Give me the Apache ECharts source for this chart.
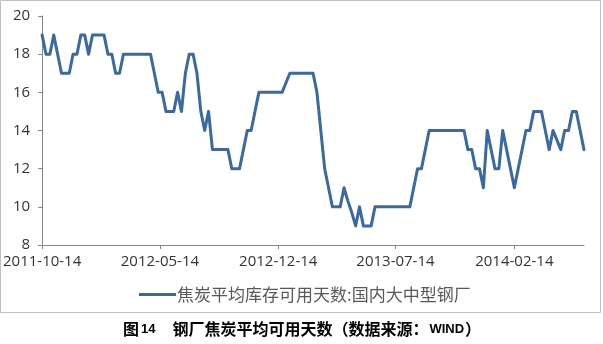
<!DOCTYPE html>
<html>
<head>
<meta charset="utf-8">
<script src="https://cdn.jsdelivr.net/npm/echarts@6/dist/echarts.min.js"></script>
<style>
  html, body { margin: 0; padding: 0; background: #ffffff; }
  #chart { width: 603px; height: 344px; }
</style>
</head>
<body>
<div id="chart"></div>
<script>
// ---- data (weekly observations starting 2011-10-14) ----
const startDate = '2011-10-14';
const stepDays = 7;
const seriesName = '焦炭平均库存可用天数:国内大中型钢厂';
const values = [
  19,18,18,19,18,17,17,17,18,18,19,19,18,19,19,19,19,
  18,18,17,17,18,18,18,18,18,18,18,18,
  17,16,16,15,15,15,16,15,17,18,18,17,15,14,15,13,13,13,13,13,12,12,12,13,14,14,15,16,
  16,16,16,16,16,16,
  16.5,
  17,17,17,17,17,17,17,
  16,14,12,11,10,10,10,11,10.3,9.7,9,10,9,9,9,10,
  10,10,10,10,10,10,10,10,10,
  11,12,12,13,14,
  14,14,14,14,14,14,14,14,14,
  13,13,12,12,11,14,13,12,12,14,13,12,11,12,13,14,14,15,15,15,14,13,14,13.5,13,14,14,15,15,14,13
];
const tickLabels = ['2011-10-14', '2012-05-14', '2012-12-14', '2013-07-14', '2014-02-14'];
const yMin = 8, yMax = 20, yInterval = 2;
const captionPrefix = '图';
const captionNumber = '14';
const captionMain = '钢厂焦炭平均可用天数（数据来源：';
const captionSource = 'WIND';
const captionEnd = '）';

// ---- helpers ----
function toUTC(s) { const p = s.split('-').map(Number); return Date.UTC(p[0], p[1] - 1, p[2]); }
function fmt(t) {
  const d = new Date(t);
  const pad = n => (n < 10 ? '0' : '') + n;
  return d.getUTCFullYear() + '-' + pad(d.getUTCMonth() + 1) + '-' + pad(d.getUTCDate());
}
const t0 = toUTC(startDate);
const DAY = 86400000;
const seriesData = values.map((v, i) => [t0 + i * stepDays * DAY, v]);
const tickTimes = tickLabels.map(toUTC);

const axisColor = '#868686';
const lineColor = '#3b69a2';
const labelFont = '"Open Sans", "Liberation Sans", sans-serif';
const cjkFont = '"Noto Sans CJK SC", sans-serif';

const chart = echarts.init(document.getElementById('chart'), null, { renderer: 'canvas' });
chart.setOption({
  backgroundColor: '#ffffff',
  animation: false,
  graphic: [{
    type: 'rect',
    shape: { x: 0.5, y: 0.5, width: 600, height: 312 },
    style: { fill: 'none', stroke: '#c0c0c0', lineWidth: 1 },
    silent: true
  }],
  title: {
    left: 118,
    top: 316,
    text: '{a|' + captionPrefix + '}{m|' + captionNumber + '}{a|\u3000' + captionMain + '}{n|' + captionSource + '}{a|' + captionEnd + '}',
    textStyle: {
      rich: {
        a: { fontFamily: cjkFont, fontSize: 16, fontWeight: 'bold', color: '#000000' },
        m: { fontFamily: '"Liberation Sans", sans-serif', fontSize: 13, fontWeight: 'bold', color: '#000000', padding: [0, 1, 0, 2] },
        n: { fontFamily: '"Liberation Sans", sans-serif', fontSize: 13, fontWeight: 'bold', color: '#000000', padding: [0, 1, 0, 1] }
      }
    }
  },
  legend: {
    left: 134,
    top: 281,
    icon: 'rect',
    itemWidth: 37,
    itemHeight: 3,
    itemGap: 4,
    textStyle: { fontFamily: cjkFont, fontSize: 17, color: '#595959', padding: [0, 0, 0, -4] },
    data: [seriesName]
  },
  grid: { left: 42, right: 19, top: 16, bottom: 99, containLabel: false },
  xAxis: {
    type: 'value',
    min: t0,
    max: seriesData[seriesData.length - 1][0],
    axisLine: { show: true, onZero: false, lineStyle: { color: axisColor, width: 1 } },
    axisTick: { show: true, length: 4, lineStyle: { color: axisColor }, customValues: tickTimes },
    axisLabel: {
      customValues: tickTimes,
      formatter: v => fmt(v),
      fontFamily: labelFont, fontSize: 15, color: '#333333', margin: 9
    },
    splitLine: { show: false }
  },
  yAxis: {
    type: 'value',
    min: yMin, max: yMax, interval: yInterval,
    axisLine: { show: true, lineStyle: { color: axisColor, width: 1 } },
    axisTick: { show: true, length: 4, lineStyle: { color: axisColor } },
    axisLabel: { fontFamily: labelFont, fontSize: 15, color: '#333333', margin: 12 },
    splitLine: { show: false }
  },
  series: [{
    name: seriesName,
    type: 'line',
    data: seriesData,
    showSymbol: false,
    symbol: 'none',
    color: lineColor,
    lineStyle: { width: 3, color: lineColor, join: 'round', cap: 'round' }
  }]
});
</script>
</body>
</html>
